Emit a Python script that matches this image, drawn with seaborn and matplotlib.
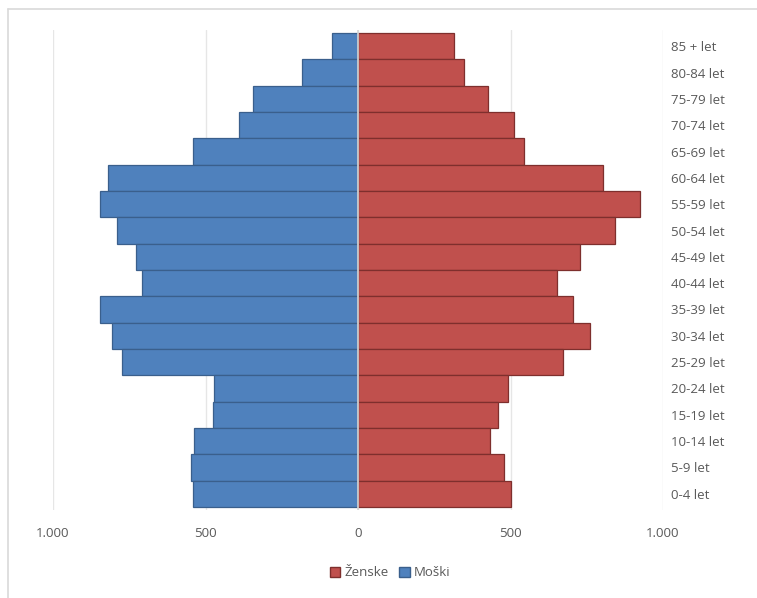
import matplotlib
matplotlib.use("Agg")
import matplotlib.pyplot as plt
import seaborn as sns
import pandas as pd
from matplotlib.patches import Patch
from matplotlib.lines import Line2D
from matplotlib.ticker import FuncFormatter

age_groups = ["85 + let", "80-84 let", "75-79 let", "70-74 let", "65-69 let",
              "60-64 let", "55-59 let", "50-54 let", "45-49 let", "40-44 let",
              "35-39 let", "30-34 let", "25-29 let", "20-24 let", "15-19 let",
              "10-14 let", "5-9 let", "0-4 let"]
moski = [84, 183, 345, 391, 542, 820, 847, 789, 728, 709,
         847, 807, 775, 473, 475, 537, 546, 540]
zenske = [315, 348, 427, 511, 543, 803, 926, 841, 729, 651,
          705, 762, 673, 493, 460, 433, 480, 501]
x_ticks = [-1000, -500, 0, 500, 1000]

BLUE, BLUE_EDGE = "#4F81BD", "#3A5F8C"
RED, RED_EDGE = "#C0504D", "#7E2F2D"
TEXT = "#595959"

sns.set_theme(style="white")
plt.rcParams["font.family"] = ["Open Sans", "DejaVu Sans"]

df_m = pd.DataFrame({"age": age_groups, "value": [-v for v in moski]})
df_z = pd.DataFrame({"age": age_groups, "value": zenske})

fig = plt.figure(figsize=(7.57, 5.98), dpi=100)
ax = fig.add_axes([53 / 757, 1 - 510 / 598, 610 / 757, 480 / 598])

sns.barplot(data=df_m, x="value", y="age", order=age_groups, orient="h",
            color=BLUE, width=1.0, edgecolor=BLUE_EDGE, linewidth=0.9,
            saturation=1, ax=ax, zorder=3)
sns.barplot(data=df_z, x="value", y="age", order=age_groups, orient="h",
            color=RED, width=1.0, edgecolor=RED_EDGE, linewidth=0.9,
            saturation=1, ax=ax, zorder=3)

ax.set_xlim(-1000, 1000)
ax.set_ylim(17.62, -0.62)
ax.set_xticks(x_ticks)
ax.xaxis.set_major_formatter(
    FuncFormatter(lambda v, p: f"{abs(int(v)):,}".replace(",", ".")))
for xv in x_ticks:
    ax.axvline(xv, color="#E6E6E6", lw=1.0, zorder=1)
ax.axvline(0, color="#D6D6D6", lw=1.2, zorder=4)

ax.yaxis.tick_right()
ax.tick_params(axis="y", length=0, pad=6, labelsize=9.5, labelcolor=TEXT)
ax.tick_params(axis="x", length=0, pad=12, labelsize=9.5, labelcolor=TEXT)
for lab in ax.get_yticklabels():
    lab.set_horizontalalignment("left")
ax.set_xlabel("")
ax.set_ylabel("")
for s in ax.spines.values():
    s.set_visible(False)

handles = [Patch(facecolor=RED, edgecolor=RED_EDGE, label="Ženske"),
           Patch(facecolor=BLUE, edgecolor=BLUE_EDGE, label="Moški")]
fig.legend(handles=handles, loc="center", bbox_to_anchor=(390 / 757, 1 - 573 / 598),
           ncol=2, frameon=False, fontsize=9.5, handlelength=0.8, handleheight=0.8,
           handletextpad=0.3, columnspacing=0.8, labelcolor=TEXT)

# chart-area frame: left and top edges
fig.lines.append(Line2D([8 / 757, 8 / 757], [0, 1 - 9 / 598],
                        transform=fig.transFigure, color="#D9D9D9", lw=1.2))
fig.lines.append(Line2D([8 / 757, 1], [1 - 9 / 598, 1 - 9 / 598],
                        transform=fig.transFigure, color="#D9D9D9", lw=1.2))

fig.savefig("out.png", dpi=100)
